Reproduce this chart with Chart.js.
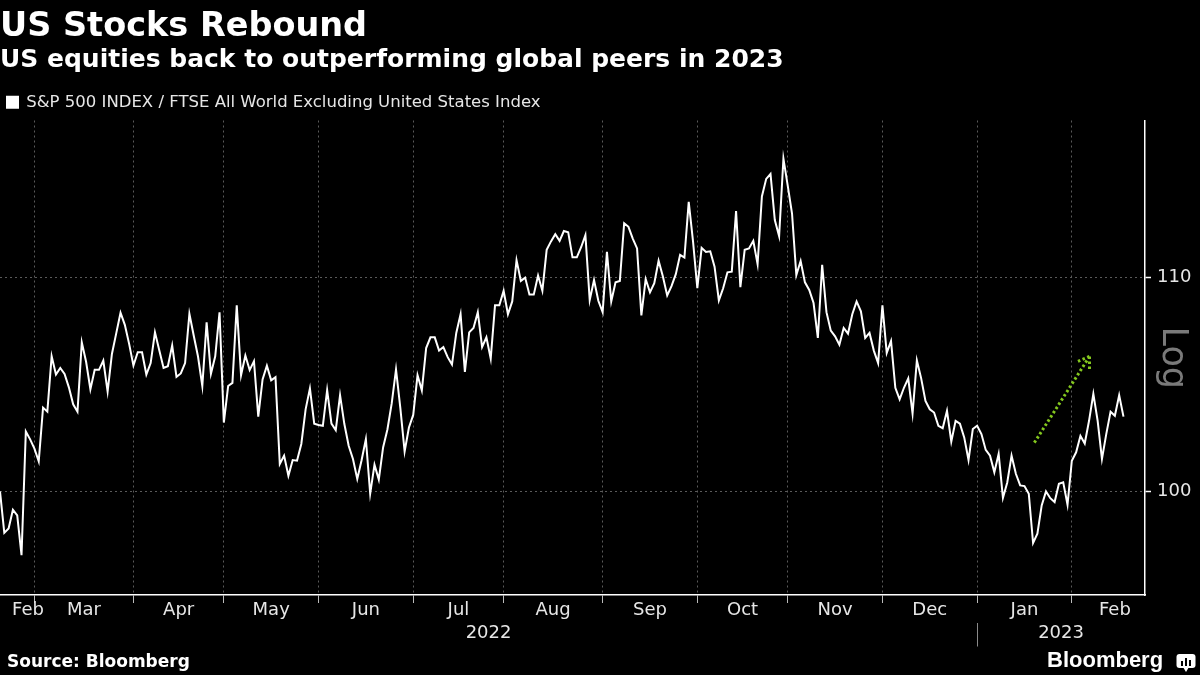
<!DOCTYPE html>
<html>
<head>
<meta charset="utf-8">
<script src="https://cdn.jsdelivr.net/npm/chart.js@4.4.1/dist/chart.umd.min.js"></script>
<style>
  html, body { margin: 0; padding: 0; background: #000; }
  #wrap { position: relative; width: 1200px; height: 675px; overflow: hidden; background: #000;
          font-family: "DejaVu Sans", sans-serif; color: #fff; }
  #chart { position: absolute; left: 0; top: 0; }
  .title { position: absolute; left: 0; top: 8px; font-size: 33.5px; line-height: 33px; font-weight: bold; white-space: nowrap; }
  .sub { position: absolute; left: 0; top: 45.5px; font-size: 25px; line-height: 25px; font-weight: bold; white-space: nowrap; }
  .source { position: absolute; left: 7px; top: 653px; font-size: 17px; line-height: 17px; font-weight: bold; }
  .brand { position: absolute; left: 1047px; top: 649px; font-family: "Liberation Sans", sans-serif;
           font-size: 22px; line-height: 22px; font-weight: bold; }
  .icon { position: absolute; left: 1176px; top: 654px; }
</style>
</head>
<body>
<div id="wrap">
  <canvas id="chart" width="1200" height="675"></canvas>
  <div class="title">US Stocks Rebound</div>
  <div class="sub">US equities back to outperforming global peers in 2023</div>
  <div class="source">Source: Bloomberg</div>
  <div class="brand">Bloomberg</div>
  <svg class="icon" width="20" height="19" viewBox="0 0 20 19">
    <rect x="0.5" y="0" width="19" height="14" rx="3" fill="#fff"/>
    <polygon points="7,13 13,13 10,18" fill="#fff"/>
    <rect x="5" y="7" width="2" height="5" fill="#000"/>
    <rect x="9" y="4" width="2" height="8" fill="#000"/>
    <rect x="13" y="6" width="2" height="6" fill="#000"/>
  </svg>
</div>
<script>
// series: one value per weekday, starting at startDate
var seriesName = 'S&P 500 INDEX / FTSE All World Excluding United States Index';
var startDate = '2022-02-17';
var axisEndDate = '2023-02-24';
var ratio = [
  100.0, 98.17, 98.36, 99.19, 98.94, 97.20, 102.71, 102.35, 101.93, 101.35,
  103.81, 103.62, 106.21, 105.35, 105.66, 105.38, 104.75, 103.96, 103.62, 106.87,
  105.95, 104.66, 105.57, 105.57, 106.01, 104.55, 106.32, 107.3, 108.29, 107.71,
  106.8, 105.77, 106.40, 106.40, 105.35, 105.89, 107.35, 106.5, 105.66, 105.74,
  106.73, 105.24, 105.4, 105.89, 108.24, 107.2, 106.2, 104.81, 107.83, 105.38,
  106.21, 108.31, 103.12, 104.81, 104.96, 108.65, 105.32, 106.25, 105.56, 105.98,
  103.39, 105.12, 105.77, 105.08, 105.23, 101.23, 101.61, 100.70, 101.41, 101.38,
  102.14, 103.73, 104.70, 103.07, 103.01, 102.97, 104.62, 103.07, 102.77, 104.39,
  103.05, 102.06, 101.46, 100.56, 101.4, 102.36, 99.90, 101.20, 100.53, 101.98,
  102.8, 104.0, 105.59, 103.8, 101.80, 102.89, 103.47, 105.32, 104.61, 106.60,
  107.11, 107.11, 106.48, 106.65, 106.17, 105.82, 107.32, 108.22, 105.47, 107.35,
  107.56, 108.32, 106.65, 107.11, 106.10, 108.65, 108.65, 109.36, 108.22, 108.84,
  110.86, 109.84, 110.0, 109.17, 109.17, 110.10, 109.36, 111.37, 111.79, 112.15,
  111.82, 112.31, 112.25, 111.0, 111.0, 111.5, 112.1, 108.91, 109.88, 108.87,
  108.32, 111.27, 108.84, 109.77, 109.84, 112.70, 112.52, 111.93, 111.44, 108.16,
  109.93, 109.28, 109.73, 110.83, 110.05, 109.13, 109.58, 110.17, 111.12, 110.99,
  113.78, 111.79, 109.48, 111.47, 111.27, 111.30, 110.54, 108.89, 109.48, 110.26,
  110.29, 113.31, 109.53, 111.37, 111.44, 111.82, 110.66, 114.05, 114.95, 115.2,
  112.86, 112.05, 115.99, 114.60, 113.19, 110.13, 110.82, 109.77, 109.40, 108.76,
  107.08, 110.63, 108.32, 107.43, 107.16, 106.76, 107.56, 107.29, 108.22, 108.84,
  108.36, 107.08, 107.32, 106.48, 105.89, 108.65, 106.37, 106.93, 104.73, 104.19,
  104.73, 105.17, 103.53, 106.02, 105.17, 104.12, 103.73, 103.58, 102.97, 102.86,
  103.66, 102.25, 103.2, 103.07, 102.44, 101.41, 102.82, 102.97, 102.59, 101.87,
  101.61, 100.86, 101.69, 99.72, 100.4, 101.61, 100.79, 100.27, 100.24, 99.90,
  97.73, 98.14, 99.38, 100.0, 99.70, 99.53, 100.34, 100.41, 99.41, 101.38,
  101.76, 102.51, 102.16, 103.2, 104.45, 103.2, 101.46, 102.59, 103.62, 103.43,
  104.38, 103.39
];

// axis labels
var monthLabels = ['Feb', 'Mar', 'Apr', 'May', 'Jun', 'Jul', 'Aug', 'Sep', 'Oct', 'Nov', 'Dec', 'Jan', 'Feb'];
var yearLabels = ['2022', '2023'];
var yTicks = [100, 110];
var yMin = 95.49, yMax = 117.98;

// green arrow, in (weekday index, value)
var arrowTail = { x: 240.3, y: 102.2 };
var arrowHead = { x: 253.1, y: 106.2 };
var arrowBarbs = [{ x: 250.2, y: 105.95 }, { x: 253.1, y: 105.6 }];

// ---- weekday calendar helpers ----
var DAY = 86400000;
function parseDay(s) { return Date.parse(s + 'T00:00:00Z'); }
function isWeekday(t) { var d = new Date(t).getUTCDay(); return d > 0 && d < 6; }
function wdIndex(t) {
  var s = parseDay(startDate), n = 0, u;
  if (t >= s) { for (u = s; u < t; u += DAY) if (isWeekday(u)) n++; }
  else { for (u = t; u < s; u += DAY) if (isWeekday(u)) n--; }
  return n;
}
var axisMax = wdIndex(parseDay(axisEndDate));

// month starts (Feb 2022 .. Mar 2023) as weekday indices
var monthStarts = [];
for (var k = 0; k <= monthLabels.length; k++) monthStarts.push(wdIndex(Date.UTC(2022, 1 + k, 1)));
var gridTicks = monthStarts.filter(function (v) { return v > 0 && v <= axisMax; });
var monthCenters = monthLabels.map(function (m, k) {
  return Math.max((monthStarts[k] + monthStarts[k + 1]) / 2, 6.5);
});
var yearStart = wdIndex(Date.UTC(2023, 0, 1));
var yearTicks = [(0 + yearStart) / 2, yearStart, (yearStart + axisMax) / 2];
var yearTickLabels = [yearLabels[0], '', yearLabels[1]];

var points = ratio.map(function (v, i) { return { x: i, y: v }; });

Chart.defaults.font.family = '"DejaVu Sans", sans-serif';
Chart.defaults.color = '#e6e6e6';

var extras = {
  id: 'extras',
  afterDatasetsDraw: function (chart) {
    var ctx = chart.ctx, xs = chart.scales.x, ys = chart.scales.y, a = chart.chartArea;
    function px(p) { return [xs.getPixelForValue(p.x), ys.getPixelForValue(p.y)]; }
    var t = px(arrowTail), h = px(arrowHead);
    ctx.save();
    ctx.strokeStyle = '#84c81e';
    ctx.lineWidth = 3;
    ctx.setLineDash([2.5, 2.5]);
    ctx.beginPath();
    ctx.moveTo(t[0], t[1]); ctx.lineTo(h[0], h[1]);
    arrowBarbs.forEach(function (b) {
      var q = px(b);
      ctx.moveTo(h[0], h[1]); ctx.lineTo(q[0], q[1]);
    });
    ctx.stroke();
    ctx.restore();

    // "Log" marker on the right axis
    ctx.save();
    ctx.translate(ys.left + 27, (a.top + a.bottom) / 2);
    ctx.rotate(Math.PI / 2);
    ctx.font = '35px "DejaVu Sans"';
    ctx.fillStyle = '#7a7a7a';
    ctx.textAlign = 'center';
    ctx.textBaseline = 'middle';
    ctx.fillText('Log', 0, 0);
    ctx.restore();
  }
};

new Chart(document.getElementById('chart'), {
  type: 'line',
  data: {
    datasets: [{
      label: seriesName,
      data: points,
      borderColor: '#ffffff',
      backgroundColor: '#ffffff',
      borderWidth: 2,
      pointRadius: 0,
      tension: 0
    }]
  },
  options: {
    responsive: false,
    animation: false,
    devicePixelRatio: 1,
    layout: { padding: { top: 87, left: 0, right: 0, bottom: 24 } },
    plugins: {
      legend: {
        display: true,
        position: 'top',
        align: 'start',
        labels: { boxWidth: 11, boxHeight: 11, padding: 7, color: '#e6e6e6', font: { size: 16.5 } }
      },
      tooltip: { enabled: false }
    },
    scales: {
      x: {
        type: 'linear', position: 'bottom', weight: 0,
        min: 0, max: axisMax,
        afterBuildTicks: function (s) { s.ticks = gridTicks.map(function (v) { return { value: v }; }); },
        afterFit: function (s) { s.height = 4.5; },
        ticks: { display: false },
        grid: { color: '#5a5a5a', lineWidth: 1, drawTicks: true, tickLength: 8, tickColor: '#bbbbbb', tickWidth: 1 },
        border: { display: true, color: '#ffffff', width: 1.5, dash: [2, 3] }
      },
      xm: {
        type: 'linear', position: 'bottom', weight: 1,
        min: 0, max: axisMax,
        afterBuildTicks: function (s) { s.ticks = monthCenters.map(function (v) { return { value: v }; }); },
        afterFit: function (s) { s.height = 23; },
        ticks: {
          autoSkip: false, maxRotation: 0, padding: 0, font: { size: 18 }, color: '#e6e6e6',
          callback: function (v, i) { return monthLabels[i]; }
        },
        grid: { display: false, drawTicks: false },
        border: { display: false }
      },
      xy: {
        type: 'linear', position: 'bottom', weight: 2,
        min: 0, max: axisMax,
        afterBuildTicks: function (s) { s.ticks = yearTicks.map(function (v) { return { value: v }; }); },
        afterFit: function (s) { s.height = 28.5; },
        ticks: {
          autoSkip: false, maxRotation: 0, padding: -23.5, font: { size: 18 }, color: '#e6e6e6',
          callback: function (v, i) { return yearTickLabels[i]; }
        },
        grid: {
          display: true, drawOnChartArea: false, drawTicks: true, tickLength: 24, tickWidth: 1,
          color: 'transparent',
          tickColor: function (c) { return c.index === 1 ? '#8a8a8a' : 'transparent'; }
        },
        border: { display: false }
      },
      y: {
        type: 'logarithmic', position: 'right',
        min: yMin, max: yMax,
        afterBuildTicks: function (s) { s.ticks = yTicks.map(function (v) { return { value: v }; }); },
        afterFit: function (s) { s.width = 55; },
        ticks: { padding: 6, font: { size: 18 }, color: '#e6e6e6', callback: function (v) { return String(v); } },
        grid: { color: '#5a5a5a', lineWidth: 1, drawTicks: true, tickLength: 6, tickColor: '#ffffff', tickWidth: 1.5 },
        border: { display: true, color: '#ffffff', width: 1.5, dash: [2, 3] }
      }
    }
  },
  plugins: [extras]
});
</script>
</body>
</html>
